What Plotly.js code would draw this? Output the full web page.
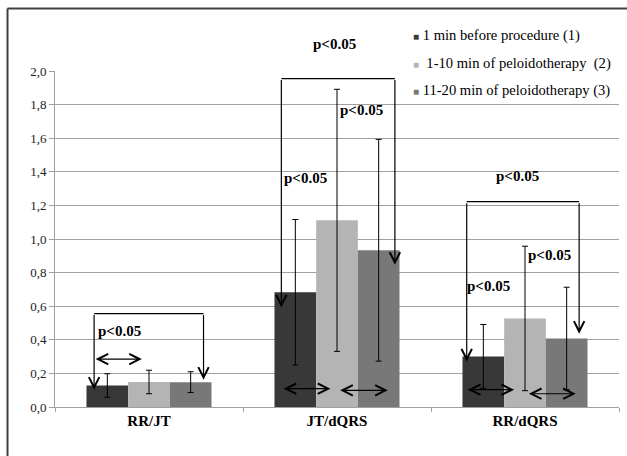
<!DOCTYPE html>
<html>
<head>
<meta charset="utf-8">
<script src="https://cdn.plot.ly/plotly-3.0.1.min.js"></script>
<style>
html,body{margin:0;padding:0;background:#fff;}
#chart{width:627px;height:456px;}
</style>
</head>
<body>
<div id="chart"></div>
<script>
// ---- data ----
var categories = ['RR/JT', 'JT/dQRS', 'RR/dQRS'];
var seriesNames = ['1 min before procedure (1)', ' 1-10 min of peloidotherapy  (2)', '11-20 min of peloidotherapy (3)'];
var before = [0.128, 0.683, 0.301];
var beforeErr = [0.07, 0.433, 0.19];
var min1to10 = [0.149, 1.111, 0.527];
var min1to10Err = [0.07, 0.78, 0.43];
var min11to20 = [0.148, 0.933, 0.408];
var min11to20Err = [0.062, 0.66, 0.305];
var yTickVals = [0, 0.2, 0.4, 0.6, 0.8, 1.0, 1.2, 1.4, 1.6, 1.8, 2.0];
var yTickText = ['0,0', '0,2', '0,4', '0,6', '0,8', '1,0', '1,2', '1,4', '1,6', '1,8', '2,0'];
var pLabel = 'p<0.05';

// ---- styles ----
var colors = ['#383838', '#b4b4b4', '#787878'];
var serif = 'Liberation Serif';
var values = [before, min1to10, min11to20];
var errs = [beforeErr, min1to10Err, min11to20Err];

var traces = values.map(function (v, i) {
  return {
    type: 'bar',
    x: categories,
    y: v,
    name: seriesNames[i],
    marker: {color: colors[i]},
    error_y: {type: 'data', array: errs[i], visible: true, color: '#000', thickness: 1, width: 3},
    showlegend: false,
    hoverinfo: 'skip'
  };
});

// annotation geometry (axis units, category index on x)
var pTextPos = [[-0.159, 0.453], [1.130, 1.767], [0.832, 1.364], [1.959, 1.374], [2.129, 0.905], [1.804, 0.721]];
var brackets = [[-0.292, 0.290, 0.556, 0.103, 0.162], [0.704, 1.308, 1.955, 0.592, 0.846], [1.690, 2.288, 1.222, 0.271, 0.436]];
var dblArrows = [[-0.292, -0.038, 0.285], [0.708, 0.965, 0.109], [1.009, 1.270, 0.099], [1.688, 1.942, 0.103], [2.013, 2.270, 0.079]];

var annotations = [];
var shapes = [];
pTextPos.forEach(function (p) {
  annotations.push({x: p[0], y: p[1], xref: 'x', yref: 'y', text: '<b>' + pLabel + '</b>', showarrow: false,
    font: {family: serif, size: 15, color: '#000'}, xanchor: 'center', yanchor: 'middle'});
});
// label above the plot area (paper units)
annotations.push({x: 0.495, y: 1.081, xref: 'paper', yref: 'paper', text: '<b>' + pLabel + '</b>', showarrow: false,
  font: {family: serif, size: 15, color: '#000'}, xanchor: 'center', yanchor: 'middle'});

function arrowAnn(x, y, ax, ay, both) {
  return {x: x, y: y, ax: ax, ay: ay, xref: 'x', yref: 'y', axref: 'x', ayref: 'y', text: '',
    showarrow: true, arrowhead: 5, arrowsize: 1.7, arrowwidth: 1.2, arrowcolor: '#000',
    arrowside: both ? 'end+start' : 'end', startarrowhead: 5, startarrowsize: 1.7};
}
brackets.forEach(function (b) {
  shapes.push({type: 'line', xref: 'x', yref: 'y', x0: b[0], x1: b[1], y0: b[2], y1: b[2], line: {color: '#000', width: 1.2}});
  annotations.push(arrowAnn(b[0], b[3], b[0], b[2], false));
  annotations.push(arrowAnn(b[1], b[4], b[1], b[2], false));
});
dblArrows.forEach(function (d) {
  annotations.push(arrowAnn(d[1], d[2], d[0], d[2], true));
});

// legend drawn as text entries
var legendY = [1.105, 1.023, 0.943];
seriesNames.forEach(function (n, i) {
  annotations.push({xref: 'paper', yref: 'paper', x: 0.632, y: legendY[i], xanchor: 'left', yanchor: 'middle',
    showarrow: false, align: 'left',
    text: '<span style="color:' + colors[i] + ';font-size:10px">■</span> ' + n,
    font: {family: serif, size: 14.6, color: '#000'}});
});

// outer frame (top and left only)
shapes.push({type: 'line', xref: 'paper', yref: 'paper', x0: -0.0842, x1: 1.02, y0: 1.186, y1: 1.186, line: {color: '#404040', width: 2}});
shapes.push({type: 'line', xref: 'paper', yref: 'paper', x0: -0.0842, x1: -0.0842, y0: 1.186, y1: -0.16, line: {color: '#404040', width: 2}});

var layout = {
  width: 627, height: 456,
  margin: {l: 55, r: 8, t: 71, b: 49, pad: 0},
  paper_bgcolor: '#fff', plot_bgcolor: '#fff',
  font: {family: serif},
  barmode: 'group', bargap: 0.335, bargroupgap: 0,
  showlegend: false,
  xaxis: {
    type: 'category', showgrid: false, showline: true, linecolor: '#a0a0a0', linewidth: 1,
    ticks: 'outside', tickson: 'boundaries', ticklen: 4, tickcolor: '#a0a0a0',
    tickfont: {family: serif, size: 15, color: '#000', weight: 'bold'},
    range: [-0.5, 2.5], fixedrange: true
  },
  yaxis: {
    range: [0, 2.0], tickvals: yTickVals, ticktext: yTickText,
    showgrid: true, gridcolor: '#a0a0a0', gridwidth: 1,
    showline: true, linecolor: '#a0a0a0', linewidth: 1,
    ticks: 'outside', ticklen: 5, tickcolor: '#a0a0a0',
    tickfont: {family: serif, size: 13, color: '#222'},
    zeroline: false, fixedrange: true
  },
  annotations: annotations,
  shapes: shapes
};

Plotly.newPlot('chart', traces, layout, {staticPlot: true, displayModeBar: false});
</script>
</body>
</html>
